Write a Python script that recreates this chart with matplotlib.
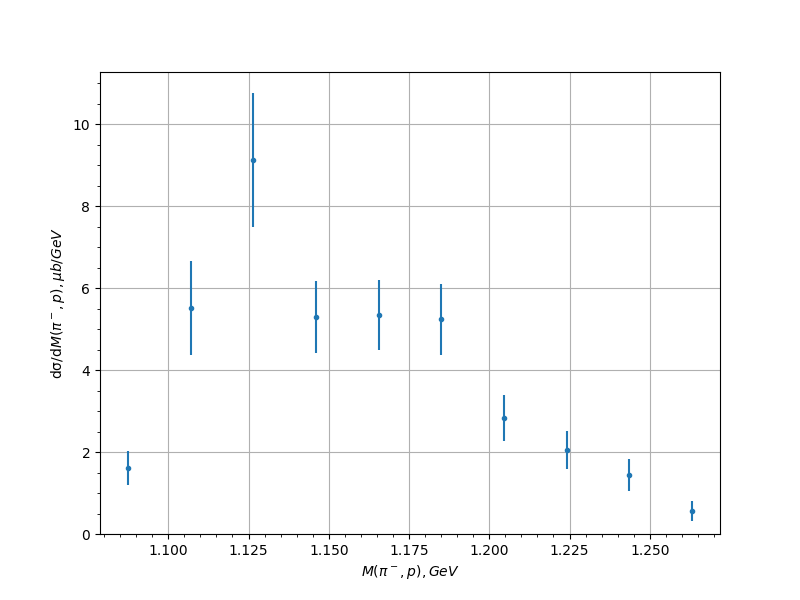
import matplotlib
matplotlib.use("Agg")
import matplotlib.pyplot as plt

# invariant mass bins and cross section values
mass = [1.0875, 1.1071, 1.1264, 1.1460, 1.1656, 1.1849, 1.2045, 1.2241, 1.2435, 1.2631]
xsec = [1.61, 5.51, 9.12, 5.29, 5.34, 5.24, 2.83, 2.05, 1.44, 0.56]
xsec_err = [0.41, 1.14, 1.63, 0.88, 0.86, 0.87, 0.57, 0.46, 0.39, 0.24]

fig, ax = plt.subplots(figsize=(8, 6), dpi=100)
ax.errorbar(mass, xsec, yerr=xsec_err, fmt=".")
ax.set_ylim(bottom=0)
ax.minorticks_on()
ax.grid(which="major")
ax.set_xlabel(r"$M(\pi^-, p), GeV$")
ax.set_ylabel(r"dσ/d$M(\pi^-, p), \mu b/GeV$")
fig.savefig("out.png", dpi=100)
